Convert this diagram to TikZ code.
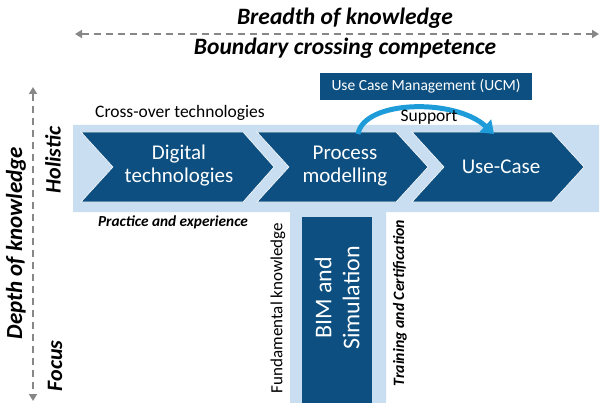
\documentclass[tikz,border=0pt]{standalone}
\usepackage{fontspec}
\setmainfont{Carlito}
\usetikzlibrary{arrows.meta}
\definecolor{darkblu}{RGB}{12,79,128}
\definecolor{lightblu}{RGB}{201,223,241}
\definecolor{supblu}{RGB}{30,156,218}
\definecolor{axgrey}{RGB}{135,135,135}
\tikzset{
  chev/.style={fill=darkblu, draw=white, line width=0.6pt},
  chevtext/.style={text=white, align=center, font=\fontsize{21}{23}\selectfont, inner sep=0pt},
  axis/.style={draw=axgrey, line width=2pt, dash pattern=on 7pt off 5pt, {Triangle[width=8pt,length=7pt]}-{Triangle[width=8pt,length=7pt]}},
  headtext/.style={font=\fontsize{23.5}{26}\selectfont\bfseries\itshape, inner sep=0pt},
  plain/.style={font=\fontsize{17.5}{20}\selectfont, inner sep=0pt},
  smallbi/.style={font=\fontsize{15.3}{18}\selectfont\bfseries\itshape, inner sep=0pt},
}
\begin{document}
\begin{tikzpicture}[x=1pt,y=-1pt]
\useasboundingbox (0,0) rectangle (601,403);
% background band and stem
\fill[lightblu] (73,125) -- (599,125) -- (599,212) -- (386,212) -- (386,403) -- (290,403) -- (290,212) -- (73,212) -- cycle;
% chevrons
\path[chev] (81,132) -- (243,132) -- (274,167) -- (243,202) -- (81,202) -- (113,167) -- cycle;
\path[chev] (257,132) -- (396,132) -- (428,167) -- (396,202) -- (257,202) -- (289,167) -- cycle;
\path[chev] (412,132) -- (552,132) -- (584,167) -- (552,202) -- (412,202) -- (444,167) -- cycle;
\node[chevtext] (dig) at (179,166) {Digital\\technologies};
\node[chevtext] (proc) at (345,166) {Process\\modelling};
\node[chevtext] (use) at (501,167) {Use-Case};
% BIM box
\fill[darkblu] (302,217) rectangle (372,403);
\node[chevtext, rotate=90, font=\fontsize{24}{28}\selectfont] (bim) at (337,298) {BIM and\\Simulation};
% UCM box
\node[fill=darkblu, text=white, plain, font=\fontsize{15.5}{18}\selectfont, minimum width=212pt, minimum height=27pt] (ucm) at (426,86.5) {Use Case Management (UCM)};
% support arrow
\coordinate (sA) at (358,134);
\coordinate (sB) at (494,134);
\draw[supblu, line width=5pt, -{Triangle[width=17pt,length=12pt]}] (sA) .. controls (364,100) and (455,98) .. (sB);
\node[plain] (sup) at (429,117) {Support};
% texts
\node[plain] (cross) at (180,113) {Cross-over technologies};
\node[smallbi] (prac) at (173,222) {Practice and experience};
\node[plain, font=\fontsize{17}{20}\selectfont, rotate=90] (fund) at (278,308) {Fundamental knowledge};
\node[smallbi, font=\fontsize{15.8}{18}\selectfont\bfseries\itshape, rotate=90] (train) at (400,303) {Training and Certification};
% headers and axes
\node[headtext] (breadth) at (345,18) {Breadth of knowledge};
\node[headtext] (bound) at (345,48) {Boundary crossing competence};
\coordinate (hL) at (75,34);
\coordinate (hR) at (599,34);
\draw[axis] (hL) -- (hR);
\coordinate (vT) at (33,87);
\coordinate (vB) at (33,401);
\draw[axis] (vT) -- (vB);
\node[headtext, font=\fontsize{23}{26}\selectfont\bfseries\itshape, rotate=90] (depth) at (16,243) {Depth of knowledge};
\node[headtext, rotate=90, font=\fontsize{22}{24}\selectfont\bfseries\itshape] (hol) at (53,160) {Holistic};
\node[headtext, rotate=90, font=\fontsize{22}{24}\selectfont\bfseries\itshape] (foc) at (55,366) {Focus};
\end{tikzpicture}
\end{document}
